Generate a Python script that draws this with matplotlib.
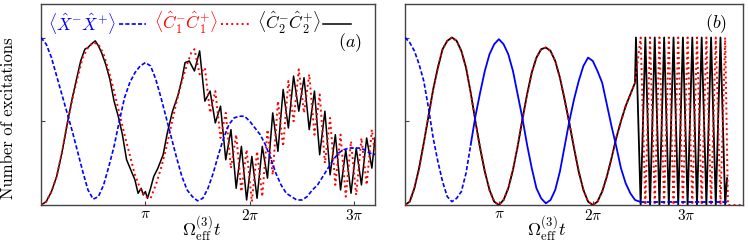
import numpy as np
import matplotlib.pyplot as plt
from matplotlib.lines import Line2D

plt.rcParams['mathtext.fontset'] = 'cm'
plt.rcParams['font.family'] = 'serif'
plt.rcParams['font.serif'] = ['cmr10', 'DejaVu Serif']
plt.rcParams['axes.unicode_minus'] = False
plt.rcParams['lines.solid_joinstyle'] = 'round'

# --- panel (a): times in units of pi ---
a_t_x = np.round(np.arange(0, 3.21, 0.05), 2)
a_x = [1.0, 0.96, 0.88, 0.77, 0.66, 0.55, 0.44, 0.32, 0.20, 0.09,
       0.035, 0.05, 0.12, 0.23, 0.35, 0.50, 0.64, 0.73, 0.79, 0.83,
       0.85, 0.83, 0.75, 0.64, 0.52, 0.40, 0.28, 0.17, 0.09, 0.05,
       0.025, 0.04, 0.10, 0.19, 0.30, 0.40, 0.48, 0.52, 0.53, 0.53,
       0.50, 0.46, 0.42, 0.36, 0.28, 0.19, 0.12, 0.07, 0.05, 0.03,
       0.03, 0.05, 0.09, 0.12, 0.17, 0.22, 0.27, 0.31, 0.33, 0.34,
       0.34, 0.34, 0.33, 0.31, 0.30]

a_t_c1 = [0, 0.05, 0.1, 0.15, 0.2, 0.25, 0.3, 0.35, 0.4, 0.45, 0.5, 0.55,
          0.6, 0.65, 0.7, 0.75, 0.8, 0.85, 0.9, 0.95, 1.0, 1.05, 1.1, 1.15,
          1.2, 1.25, 1.3, 1.35, 1.4, 1.44, 1.47, 1.52, 1.57, 1.62, 1.67,
          1.72, 1.77, 1.82, 1.87, 1.92, 1.97, 2.02, 2.07, 2.12, 2.17, 2.22,
          2.27, 2.32, 2.37, 2.42, 2.47, 2.52, 2.57, 2.62, 2.67, 2.72, 2.77,
          2.82, 2.87, 2.92, 2.97, 3.02, 3.07, 3.12, 3.17, 3.2]
a_c1 = [0, 0.02, 0.08, 0.17, 0.31, 0.48, 0.63, 0.76, 0.88, 0.94, 0.97, 0.96,
        0.90, 0.80, 0.68, 0.55, 0.42, 0.30, 0.18, 0.10, 0.05, 0.04, 0.12, 0.22,
        0.34, 0.48, 0.62, 0.74, 0.84, 0.91, 0.93, 0.78, 0.82, 0.55, 0.68,
        0.40, 0.55, 0.22, 0.42, 0.08, 0.33, 0.02, 0.32, 0.05, 0.45, 0.18,
        0.62, 0.35, 0.74, 0.50, 0.81, 0.55, 0.78, 0.42, 0.66, 0.25, 0.52,
        0.12, 0.42, 0.05, 0.38, 0.06, 0.40, 0.12, 0.45, 0.30]

a_t_c2 = [0, 0.05, 0.1, 0.15, 0.2, 0.25, 0.3, 0.34, 0.38, 0.42, 0.45, 0.48,
          0.52, 0.55, 0.58, 0.62, 0.66, 0.70, 0.74, 0.78, 0.82, 0.86, 0.90,
          0.93, 0.96, 0.98, 1.00, 1.02, 1.05, 1.08, 1.12, 1.17, 1.21, 1.26,
          1.31, 1.35, 1.38, 1.42, 1.47, 1.52, 1.57, 1.62, 1.67, 1.72, 1.77,
          1.82, 1.87, 1.92, 1.97, 2.02, 2.07, 2.12, 2.17, 2.22, 2.27, 2.32,
          2.37, 2.42, 2.47, 2.52, 2.57, 2.62, 2.67, 2.72, 2.77, 2.82, 2.87,
          2.92, 2.97, 3.02, 3.07, 3.12, 3.17, 3.2]
a_c2 = [0, 0.02, 0.08, 0.17, 0.31, 0.48, 0.64, 0.75, 0.86, 0.93, 0.94, 0.96,
        0.98, 0.95, 0.91, 0.84, 0.75, 0.62, 0.53, 0.42, 0.27, 0.21, 0.15,
        0.07, 0.10, 0.06, 0.08, 0.04, 0.10, 0.17, 0.22, 0.30, 0.43, 0.56,
        0.65, 0.75, 0.85, 0.86, 0.80, 0.92, 0.62, 0.68, 0.49, 0.59, 0.27,
        0.45, 0.10, 0.35, 0.03, 0.29, 0.04, 0.35, 0.16, 0.55, 0.32, 0.69,
        0.46, 0.77, 0.56, 0.76, 0.45, 0.68, 0.30, 0.56, 0.18, 0.42, 0.09,
        0.33, 0.07, 0.34, 0.12, 0.40, 0.22, 0.40]

# --- panel (b) ---
b_t_x = np.round(np.arange(0, 2.51, 0.05), 2)
b_x = [1.0, 0.97, 0.92, 0.84, 0.74, 0.58, 0.40, 0.26, 0.14, 0.05,
       0.02, 0.04, 0.08, 0.19, 0.36, 0.53, 0.67, 0.80, 0.90, 0.96,
       0.99, 0.96, 0.90, 0.80, 0.66, 0.52, 0.36, 0.22, 0.10, 0.04,
       0.01, 0.03, 0.09, 0.20, 0.35, 0.50, 0.63, 0.74, 0.83, 0.88,
       0.86, 0.80, 0.73, 0.60, 0.47, 0.35, 0.22, 0.13, 0.07, 0.03,
       0.02]
b_t_x_tail = [2.5, 3.43]
b_x_tail = [0.02, 0.02]

b_t_c = np.round(np.arange(0, 2.46, 0.05), 2)
b_c = [0, 0.02, 0.10, 0.22, 0.37, 0.53, 0.69, 0.82, 0.93, 0.98,
       1.0, 0.98, 0.92, 0.82, 0.67, 0.50, 0.34, 0.20, 0.09, 0.02,
       0.0, 0.03, 0.10, 0.21, 0.35, 0.51, 0.66, 0.79, 0.88, 0.93,
       0.94, 0.92, 0.86, 0.76, 0.63, 0.49, 0.34, 0.20, 0.09, 0.02,
       0.0, 0.02, 0.08, 0.17, 0.28, 0.40, 0.50, 0.59, 0.66, 0.73]

b_t_c2_fast = [2.46, 2.51, 2.56, 2.61, 2.66, 2.71, 2.76, 2.81, 2.86, 2.91,
               2.96, 3.01, 3.06, 3.11, 3.16, 3.21, 3.26, 3.31, 3.36, 3.41,
               3.43]
b_c2_fast = [1, 0, 1, 0, 1, 0, 1, 0, 1, 0,
             1, 0, 1, 0, 1, 0, 1, 0, 1, 0,
             0.16]
b_t_c1_fast = [2.51, 2.56, 2.61, 2.66, 2.71, 2.76, 2.81, 2.86, 2.91, 2.96,
               3.01, 3.06, 3.11, 3.16, 3.21, 3.26, 3.31, 3.36, 3.41, 3.44,
               3.6]
b_c1_fast = [1, 0, 1, 0, 1, 0, 1, 0, 1, 0,
             1, 0, 1, 0, 1, 0, 1, 0, 1, 0,
             0]

blue = '#0000ff'
red = '#ff0000'
pi = np.pi

fig = plt.figure(figsize=(7.48, 2.46), dpi=100)
ax1 = fig.add_axes([41/748, 1-205/246, (375-41)/748, (205-4)/246])
ax2 = fig.add_axes([405/748, 1-205/246, (743-405)/748, (205-4)/246])

dash = (2.5, 1.3)

# (a)
ax1.plot(np.array(a_t_c2)*pi, a_c2, color='k', lw=1.1, zorder=2)
ax1.plot(np.array(a_t_c1)*pi, a_c1, color=red, lw=1.4, ls=':', zorder=3)
ax1.plot(a_t_x*pi, a_x, color=blue, lw=1.2, dashes=dash, zorder=4)

# (b)
b_c2_t = np.concatenate([b_t_c, b_t_c2_fast])
b_c2_v = np.concatenate([b_c, b_c2_fast])
b_c1_t = np.concatenate([b_t_c, b_t_c1_fast])
b_c1_v = np.concatenate([b_c, b_c1_fast])
ax2.plot(b_c2_t*pi, b_c2_v, color='k', lw=1.3, zorder=2)
ax2.plot(b_c1_t*pi, b_c1_v, color=red, lw=1.4, ls=':', zorder=3)
split = 15  # dashes merge into a solid-looking trace after ~0.75 pi
ax2.plot(b_t_x[:split]*pi, b_x[:split], color=blue, lw=1.2, dashes=dash, zorder=4)
ax2.plot(b_t_x[split-1:]*pi, b_x[split-1:], color=blue, lw=1.3, zorder=4)
ax2.plot(np.array(b_t_x_tail)*pi, b_x_tail, color=blue, lw=1.3, dashes=dash, zorder=4)

for ax, xmax in [(ax1, 3.2), (ax2, 3.6)]:
    ax.set_xlim(0, xmax*pi)
    ax.set_ylim(0, 1.2)
    ax.set_xticks([pi, 2*pi, 3*pi])
    ax.set_xticklabels([r'$\pi$', r'$2\pi$', r'$3\pi$'], fontsize=11)
    ax.set_yticks([0, 0.5, 1])
    ax.set_yticklabels([])
    ax.tick_params(direction='in', length=3, width=0.8, color='#444444', pad=2)
    for s in ax.spines.values():
        s.set_color('#444444')
        s.set_linewidth(1.0)
    ax.set_xlabel(r'$\Omega_{\rm eff}^{(3)}t$', fontsize=13)

ax1.xaxis.set_label_coords(0.48, -0.05)
ax2.xaxis.set_label_coords(0.42, -0.05)
ax1.set_ylabel('Number of excitations', fontsize=12)
ax1.yaxis.set_label_coords(-0.075, 0.43)

ax1.text(0.961, 0.806, r'$(a)$', transform=ax1.transAxes, ha='right', va='center', fontsize=13)
ax2.text(0.953, 0.90, r'$(b)$', transform=ax2.transAxes, ha='right', va='center', fontsize=13)

handles = [Line2D([], [], color=blue, lw=1.2, dashes=dash),
           Line2D([], [], color=red, lw=1.4, ls=':'),
           Line2D([], [], color='k', lw=1.1)]
labels = [r'$\langle\hat{X}^{-}\hat{X}^{+}\rangle$',
          r'$\langle\hat{C}_1^{-}\hat{C}_1^{+}\rangle$',
          r'$\langle\hat{C}_2^{-}\hat{C}_2^{+}\rangle$']
ax1.legend(handles, labels, loc='center left', bbox_to_anchor=(7/334, 0.905),
           ncol=3, frameon=False, markerfirst=False, labelcolor='linecolor',
           fontsize=12.5, handlelength=1.6, handletextpad=0.15, columnspacing=0.45,
           borderpad=0, borderaxespad=0)

fig.savefig('out.png', dpi=100)
